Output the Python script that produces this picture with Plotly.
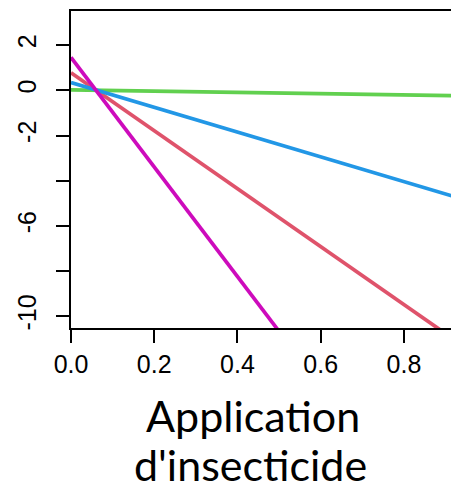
import plotly.graph_objects as go

# Data: value of each line at x=0 and x=1
x_ends = [0.0, 1.0]
green_y = [0.02, -0.26]
blue_y = [0.34, -5.14]
red_y = [0.78, -12.05]
magenta_y = [1.46, -22.8]

y_tickvals = [2, 0, -2, -4, -6, -8, -10]
y_ticktext = ["2", "0", "-2", "", "-6", "", "-10"]
x_tickvals = [0.0, 0.2, 0.4, 0.6, 0.8]
x_ticktext = ["0.0", "0.2", "0.4", "0.6", "0.8"]
x_title_lines = ["Application", "d'insecticide"]

series = [
    ("green", green_y, "#61D04F"),
    ("red", red_y, "#DF536B"),
    ("blue", blue_y, "#2297E6"),
    ("magenta", magenta_y, "#CD0BBC"),
]

fig = go.Figure()
for name, ys, col in series:
    fig.add_trace(go.Scatter(x=x_ends, y=ys, mode="lines", name=name,
                             line=dict(color=col, width=3.7)))

fig.update_layout(
    width=451, height=492,
    margin=dict(l=71, r=0, t=11, b=164),
    paper_bgcolor="white", plot_bgcolor="white",
    showlegend=False,
    font=dict(family="Liberation Sans, Arial", size=25, color="black"),
)
fig.update_xaxes(
    range=[0, 0.913], showgrid=False, zeroline=False, automargin=False,
    showline=True, linecolor="black", linewidth=2, mirror=True,
    ticks="outside", ticklen=13, tickwidth=2, tickcolor="black",
    tickvals=x_tickvals, ticktext=x_ticktext, ticklabelstandoff=0,
)
fig.update_yaxes(
    range=[-10.52, 3.51], showgrid=False, zeroline=False, automargin=False,
    showline=True, linecolor="black", linewidth=2,
    ticks="outside", ticklen=13, tickwidth=2, tickcolor="black",
    tickvals=y_tickvals, ticktext=y_ticktext, tickangle=-90,
    ticklabelstandoff=10,
)
for txt, yy, xx in zip(x_title_lines, [-0.277, -0.432], [0.478, 0.473]):
    fig.add_annotation(
        text=txt, xref="paper", yref="paper", x=xx, y=yy,
        xanchor="center", yanchor="middle", showarrow=False,
        font=dict(family="Lato", size=43, color="black"),
    )
fig.write_html(
    "out.html",
    config={"displayModeBar": False},
    post_script="document.body.style.margin='0';document.body.style.padding='0';",
)
